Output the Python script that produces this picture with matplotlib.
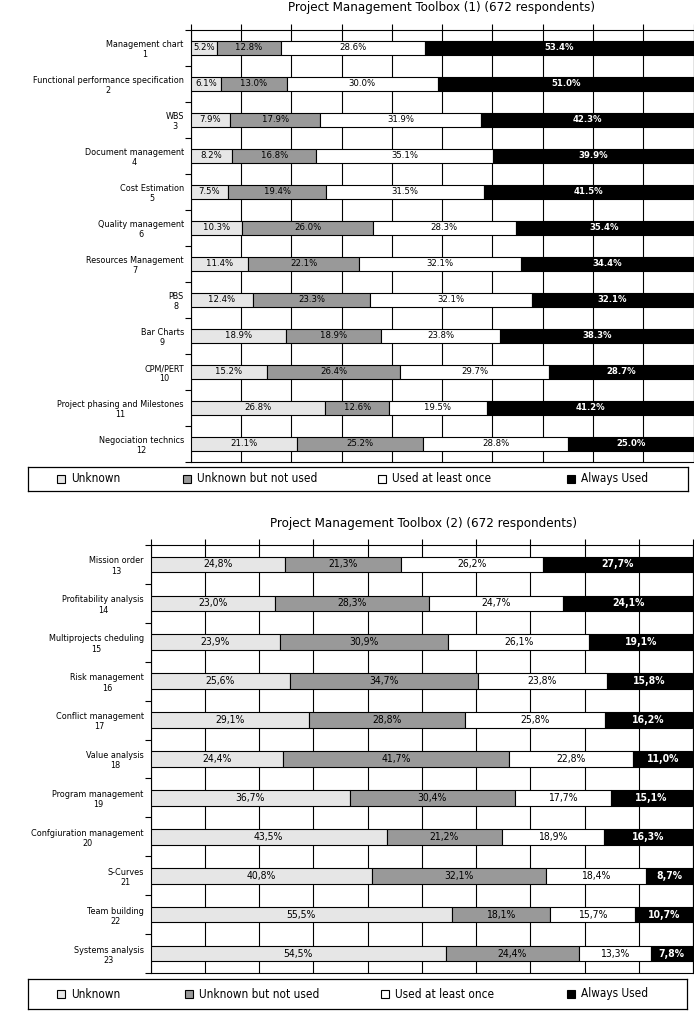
import matplotlib

matplotlib.use("Agg")
import matplotlib.pyplot as plt
import numpy as np
from matplotlib.patches import Rectangle

W, H = 694, 1011
LIGHT, MID, WHITE, BLACK = "#e6e6e6", "#999999", "#ffffff", "#000000"
COLORS = [LIGHT, MID, WHITE, BLACK]
SERIES = ["Unknown", "Unknown but not used", "Used at least once", "Always Used"]

plt.rcParams["font.family"] = ["DejaVu Sans"]
plt.rcParams["font.stretch"] = "condensed"

# ---- panel 1 ----
tools_1 = ["Management chart", "Functional performance specification", "WBS",
           "Document management", "Cost Estimation", "Quality management",
           "Resources Management", "PBS", "Bar Charts", "CPM/PERT",
           "Project phasing and Milestones", "Negociation technics"]
ids_1 = list(range(1, 13))
unknown_1 = [5.2, 6.1, 7.9, 8.2, 7.5, 10.3, 11.4, 12.4, 18.9, 15.2, 26.8, 21.1]
not_used_1 = [12.8, 13.0, 17.9, 16.8, 19.4, 26.0, 22.1, 23.3, 18.9, 26.4, 12.6, 25.2]
once_1 = [28.6, 30.0, 31.9, 35.1, 31.5, 28.3, 32.1, 32.1, 23.8, 29.7, 19.5, 28.8]
always_1 = [53.4, 51.0, 42.3, 39.9, 41.5, 35.4, 34.4, 32.1, 38.3, 28.7, 41.2, 25.0]

# ---- panel 2 ----
tools_2 = ["Mission order", "Profitability analysis", "Multiprojects cheduling",
           "Risk management", "Conflict management", "Value analysis",
           "Program management", "Confgiuration management", "S-Curves",
           "Team building", "Systems analysis"]
ids_2 = list(range(13, 24))
unknown_2 = [24.8, 23.0, 23.9, 25.6, 29.1, 24.4, 36.7, 43.5, 40.8, 55.5, 54.5]
not_used_2 = [21.3, 28.3, 30.9, 34.7, 28.8, 41.7, 30.4, 21.2, 32.1, 18.1, 24.4]
once_2 = [26.2, 24.7, 26.1, 23.8, 25.8, 22.8, 17.7, 18.9, 18.4, 15.7, 13.3]
always_2 = [27.7, 24.1, 19.1, 15.8, 16.2, 11.0, 15.1, 16.3, 8.7, 10.7, 7.8]


def px_axes(fig, left, top, right, bottom):
    return fig.add_axes([left / W, 1 - bottom / H, (right - left) / W, (bottom - top) / H])


def panel(ax, names, ids, series, bar_h, sep, val_fs, lab_fs):
    n = len(names)
    y = np.arange(1, n + 1)
    left = np.zeros(n)
    for vals, color in zip(series, COLORS):
        vals = np.asarray(vals)
        ax.barh(y, vals, left=left, height=bar_h, color=color,
                edgecolor="black", lw=0.8, zorder=3)
        for yi, l, v in zip(y, left, vals):
            txt = f"{v:.1f}%".replace(".", sep)
            dark = color == BLACK
            ax.text(l + v / 2, yi, txt, ha="center", va="center", fontsize=val_fs,
                    color="white" if dark else "black",
                    fontweight="bold" if dark else "normal", zorder=4)
        left = left + vals
    ax.set_xlim(0, 100)
    ax.set_ylim(n + 0.5, 0.5)
    ax.xaxis.tick_top()
    ax.set_xticks(np.arange(0, 101, 10))
    ax.tick_params(axis="x", length=4, width=0.8, labeltop=False, top=True, bottom=False)
    ax.grid(axis="x", color="black", lw=0.8, zorder=1)
    ax.set_axisbelow(True)
    # ticks at the category boundaries, labels at the centres
    ax.set_yticks(np.arange(0.5, n + 1, 1))
    ax.set_yticklabels([])
    ax.set_yticks(y, minor=True)
    ax.set_yticklabels([f"{a}\n{b}" for a, b in zip(names, ids)], minor=True,
                       fontsize=lab_fs, multialignment="center", linespacing=1.2)
    ax.tick_params(axis="y", which="major", length=4, width=0.8)
    ax.tick_params(axis="y", which="minor", length=0, pad=5)
    for s in ax.spines.values():
        s.set_linewidth(0.8)


def legend_box(fig, left, top, right, bottom, xs, fs):
    lax = px_axes(fig, left, top, right, bottom)
    lax.set_xlim(left, right)
    lax.set_ylim(0, 1)
    lax.set_xticks([])
    lax.set_yticks([])
    for s in lax.spines.values():
        s.set_linewidth(0.9)
    hh = bottom - top
    sq = 8
    for x0, name, color in zip(xs, SERIES, COLORS):
        lax.add_patch(Rectangle((x0, 0.5 - sq / 2 / hh), sq, sq / hh, facecolor=color,
                                edgecolor="black", lw=0.8))
        lax.text(x0 + sq + 6, 0.5, name, ha="left", va="center", fontsize=fs)


fig = plt.figure(figsize=(W / 100, H / 100), dpi=100)

fig.text(442 / W, 1 - 8 / H, "Project Management Toolbox (1) (672 respondents)",
         ha="center", va="center", fontsize=9.5)
ax1 = px_axes(fig, 190.7, 30, 693.5, 462)
panel(ax1, tools_1, ids_1, [unknown_1, not_used_1, once_1, always_1], 0.38, ".", 6.8, 6.5)
legend_box(fig, 28, 467, 688, 491, [57, 183, 378, 567], 8.5)

fig.text(423 / W, 1 - 524 / H, "Project Management Toolbox (2) (672 respondents)",
         ha="center", va="center", fontsize=9.5)
ax2 = px_axes(fig, 150.7, 545, 693, 973)
panel(ax2, tools_2, ids_2, [unknown_2, not_used_2, once_2, always_2], 0.4, ",", 7.5, 6.5)
legend_box(fig, 28, 979, 687, 1009, [57, 185, 381, 567], 8.5)

fig.savefig("out.png", dpi=100)
